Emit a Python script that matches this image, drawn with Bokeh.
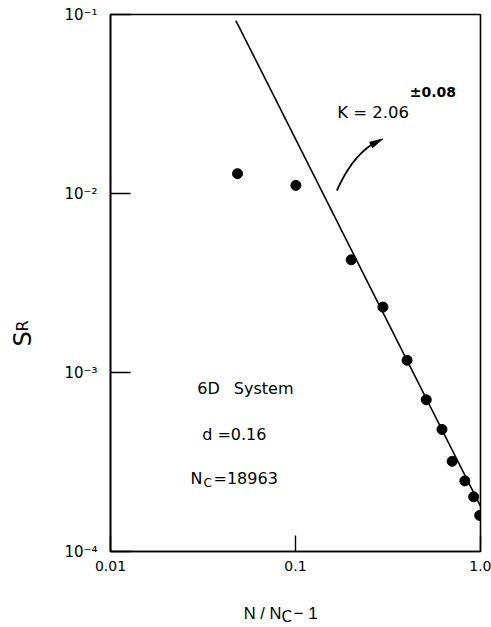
import math
from bokeh.plotting import figure
from bokeh.layouts import row, column
from bokeh.models import Range1d, FixedTicker, Label
from bokeh.embed import file_html
from bokeh.resources import INLINE

# ---- data ----
x_ratio = [0.0486, 0.1005, 0.200, 0.297, 0.401, 0.509, 0.619, 0.703, 0.823, 0.918, 0.99]
s_r = [0.0129, 0.0111, 0.00426, 0.00232, 0.00117, 0.000704, 0.000481, 0.000319, 0.000248, 0.000202, 0.000159]

# fitted power law line (slope K = 2.06), end points
fit_x = [0.0476, 1.0]
fit_y = [0.0925, 0.000179]

x_ticks = [0.01, 0.1, 1.0]
x_tick_labels = ["0.01", "0.1", "1.0"]
y_ticks = [0.0001, 0.001, 0.01, 0.1]
y_tick_labels = ["10\u207b\u2074", "10\u207b\u00b3", "10\u207b\u00b2", "10\u207b\u00b9"]

FONT = "DejaVu Sans"

LEFT_W = 50
MAIN_W = 441
MAIN_H = 591
BOTTOM_H = 34


def blank(width, height):
    f = figure(width=width, height=height, x_range=Range1d(0, 1), y_range=Range1d(0, 1),
               x_axis_location=None, y_axis_location=None,
               output_backend="svg", toolbar_location=None, min_border=0)
    f.outline_line_color = None
    f.grid.visible = False
    f.background_fill_color = "white"
    f.border_fill_color = "white"
    return f


def lab(fig, text, sx, sy, size, font=FONT, style="normal", angle=0.0):
    fig.add_layout(Label(x=sx, y=sy, x_units="screen", y_units="screen",
                         text=text, text_font=font, text_font_size=size,
                         text_font_style=style, text_color="black",
                         text_baseline="alphabetic", text_align="left",
                         angle=angle))


p = figure(width=MAIN_W, height=MAIN_H,
           x_axis_type="log", y_axis_type="log",
           x_range=Range1d(0.01, 1.0), y_range=Range1d(0.0001, 0.1),
           output_backend="svg", toolbar_location=None,
           min_border_left=60, min_border_right=11,
           min_border_top=14, min_border_bottom=40)

p.grid.visible = False
p.background_fill_color = "white"
p.border_fill_color = "white"
p.outline_line_color = "black"
p.outline_line_width = 1.6
p.outline_line_alpha = 1.0

# axes
p.xaxis.ticker = FixedTicker(ticks=x_ticks)
p.yaxis.ticker = FixedTicker(ticks=y_ticks)
p.xaxis.major_label_overrides = dict(zip(x_ticks, x_tick_labels))
p.yaxis.major_label_overrides = dict(zip(y_ticks, y_tick_labels))
for ax in (p.xaxis, p.yaxis):
    ax.axis_line_color = "black"
    ax.axis_line_width = 1.6
    ax.major_tick_line_color = "black"
    ax.major_tick_line_width = 1.4
    ax.major_tick_out = 0
    ax.minor_tick_line_color = None
    ax.major_label_text_color = "black"
    ax.major_label_text_font = FONT
p.xaxis.major_tick_in = 16
p.yaxis.major_tick_in = 20
p.xaxis.major_label_text_font_size = "14px"
p.yaxis.major_label_text_font_size = "15px"
p.xaxis.major_label_standoff = 9
p.yaxis.major_label_standoff = 13

# fitted line and data points
p.line(fit_x, fit_y, line_color="black", line_width=1.6)
p.scatter(x_ratio, s_r, size=10, fill_color="black", line_color="black")

# curved arrow pointing at the slope label
p.quadratic(x0=[0.1673], y0=[0.01039], x1=[0.2563], y1=[0.01866],
            cx=[0.1999], cy=[0.01569], line_color="black", line_width=1.8)
p.patch([0.2961, 0.2608, 0.2518], [0.02016, 0.01803, 0.01932],
        fill_color="black", line_color="black", line_width=1)

# annotations inside the plot (screen offsets from the frame's lower-left corner)
lab(p, "K = 2.06", 226.7, 439.5, "16.5px")
lab(p, "\u00b10.08", 299.3, 459.3, "14px", style="bold")
lab(p, "6D", 86.7, 162.7, "16px")
lab(p, "System", 123.3, 162.7, "16px")
lab(p, "d =0.16", 91.7, 116.7, "16px")
lab(p, "N", 80, 72.7, "16px")
lab(p, "C", 93, 68.3, "12px")
lab(p, "=18963", 103, 72.7, "16px")

# x axis title: N / N_C - 1 (strip below the plot, frame aligned with the plot's)
bottom = blank(MAIN_W, BOTTOM_H)
lab(bottom, "N / N", 133.3, 12.3, "16.5px", font="Liberation Sans")
lab(bottom, "C", 171, 8.5, "15px")
lab(bottom, "\u2212 1", 183, 12.3, "17px", font="Liberation Sans")

# y axis title: S_R (strip left of the plot, rotated)
left = blank(LEFT_W, MAIN_H + BOTTOM_H)
lab(left, "S", 22, 279, "24px", angle=math.pi / 2)
lab(left, "R", 22, 294, "16px", angle=math.pi / 2)

layout = row(left, column(p, bottom, spacing=0), spacing=0)

open("out.html", "w").write(file_html(layout, INLINE))
